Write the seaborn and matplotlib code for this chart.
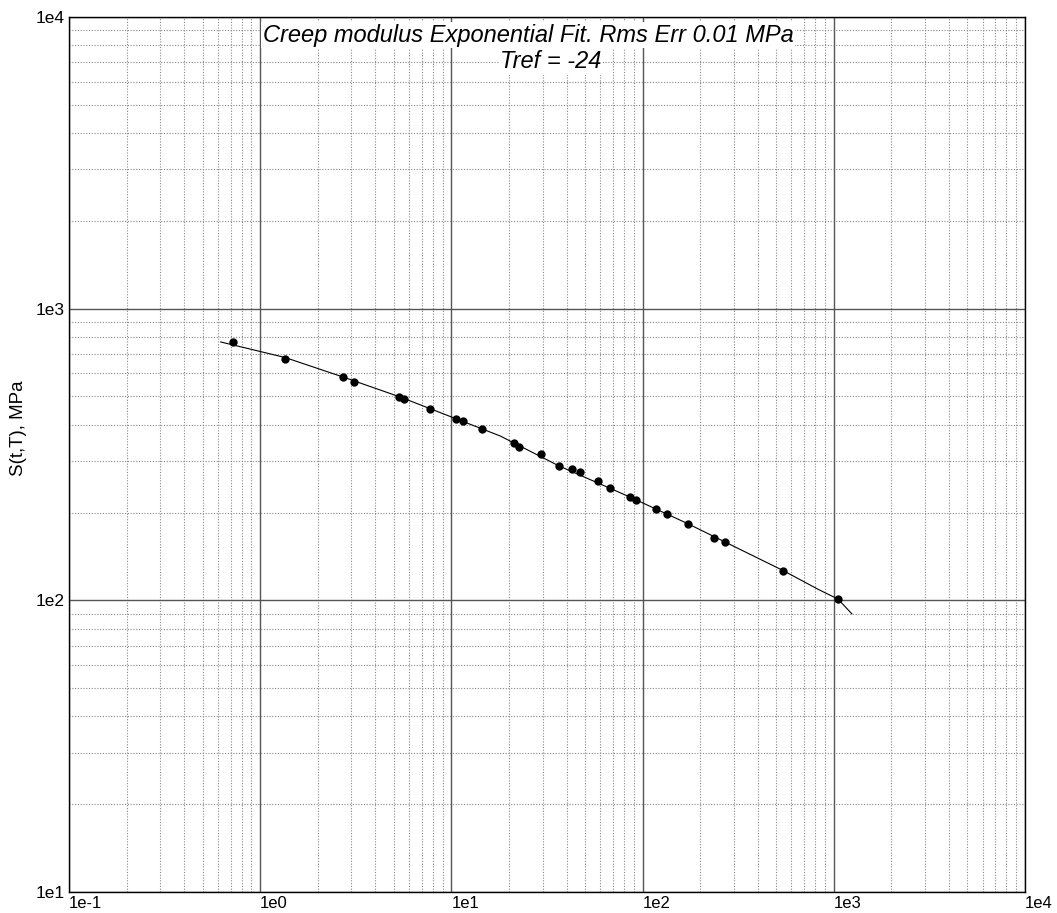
import numpy as np
import matplotlib
matplotlib.use("Agg")
import matplotlib.pyplot as plt
from matplotlib.ticker import FixedLocator, LogLocator, NullFormatter
import pandas as pd
import seaborn as sns

# datos medidos (tiempo reducido, modulo)
t_meas = [0.72, 1.35, 2.72, 3.09, 5.34, 5.65, 7.73, 10.6, 11.5, 14.5,
          21.3, 22.7, 29.4, 36.4, 42.9, 46.9, 58.2, 67.5, 85.6, 92.0,
          117.5, 133.7, 172.8, 236.3, 268.8, 540.0, 1050.0]
s_meas = [770, 674, 582, 562, 497, 489, 452, 418, 412, 387,
          345, 335, 318, 289, 282, 275, 256, 243, 226, 221,
          205, 198, 182, 163, 159, 126, 101]

# curva del ajuste exponencial
t_fit = [0.62, 1.35, 2.71, 5.39, 10.6, 18.0, 36.5, 85.9, 172.8, 269.8,
         542.0, 830.0, 1052.0, 1245.0]
s_fit = [769, 680, 583, 498, 419, 366, 289, 226, 183, 158.5,
         126.6, 109, 101, 89.8]

x_ticks = [1e-1, 1e0, 1e1, 1e2, 1e3, 1e4]
x_labels = ["1e-1", "1e0", "1e1", "1e2", "1e3", "1e4"]
y_ticks = [1e1, 1e2, 1e3, 1e4]
y_labels = ["1e1", "1e2", "1e3", "1e4"]

df_meas = pd.DataFrame({"t": t_meas, "S": s_meas})
df_fit = pd.DataFrame({"t": t_fit, "S": s_fit})

sns.set_style("white")
plt.rcParams["font.family"] = ["Liberation Sans", "DejaVu Sans"]
plt.rcParams["text.color"] = "black"
plt.rcParams["axes.labelcolor"] = "black"
plt.rcParams["xtick.color"] = "black"
plt.rcParams["ytick.color"] = "black"

fig = plt.figure(figsize=(10.57, 9.13), dpi=100)
ax = fig.add_axes([0.0653, 0.023, 0.9044, 0.9584])

ax.set_xscale("log")
ax.set_yscale("log")
ax.set_xlim(1e-1, 1e4)
ax.set_ylim(1e1, 1e4)

# rejilla
ax.xaxis.set_major_locator(FixedLocator(x_ticks))
ax.yaxis.set_major_locator(FixedLocator(y_ticks))
ax.xaxis.set_minor_locator(LogLocator(base=10, subs=np.arange(2, 10)))
ax.yaxis.set_minor_locator(LogLocator(base=10, subs=np.arange(2, 10)))
ax.xaxis.set_minor_formatter(NullFormatter())
ax.yaxis.set_minor_formatter(NullFormatter())
ax.grid(which="major", color="#555555", linestyle="-", linewidth=1.0)
ax.grid(which="minor", color="#888888", linestyle=(0, (1, 1.5)), linewidth=0.8)
ax.set_axisbelow(True)

sns.lineplot(data=df_fit, x="t", y="S", ax=ax, color="black", linewidth=0.8,
             sort=False, estimator=None)
sns.scatterplot(data=df_meas, x="t", y="S", ax=ax, color="black", s=36,
                edgecolor="black", linewidth=0, zorder=3)

ax.set_xticklabels(x_labels, ha="left", fontsize=12)
ax.set_yticklabels(y_labels, fontsize=12.5)
ax.tick_params(which="both", length=0, pad=3)
ax.set_xlabel("")
ax.set_ylabel("S(t,T), MPa", fontsize=13.5)
ax.yaxis.set_label_coords(-0.044, 0.53)

for sp in ax.spines.values():
    sp.set_color("black")
    sp.set_linewidth(1.0)

ax.text(0.48, 0.979, "Creep modulus Exponential Fit. Rms Err 0.01 MPa",
        transform=ax.transAxes, ha="center", va="center", fontsize=17,
        style="italic", bbox=dict(facecolor="white", edgecolor="none", pad=1))
ax.text(0.504, 0.9486, "Tref = -24", transform=ax.transAxes, ha="center",
        va="center", fontsize=17, style="italic",
        bbox=dict(facecolor="white", edgecolor="none", pad=1))

fig.savefig("out.png", dpi=100)
